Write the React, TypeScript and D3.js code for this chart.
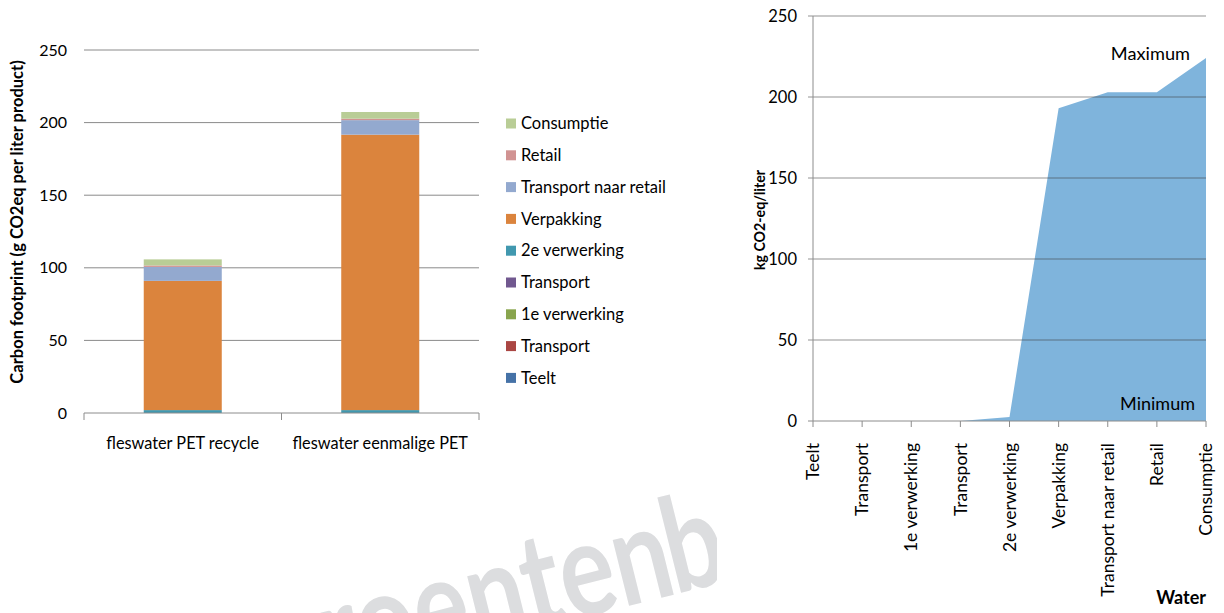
import React from "react";
import * as d3 from "d3";

// ---------- data ----------
const categories = ["fleswater PET recycle", "fleswater eenmalige PET"];
const seriesNames = [
  "Teelt",
  "Transport",
  "1e verwerking",
  "Transport",
  "2e verwerking",
  "Verpakking",
  "Transport naar retail",
  "Retail",
  "Consumptie",
];
const recycleValues = [0, 0, 0, 0, 2, 89, 9.6, 1, 4.2];
const eenmaligeValues = [0, 0, 0, 0, 2, 189.7, 10, 1, 4.6];
const seriesColors = [
  "#4572A7",
  "#AA4643",
  "#89A54E",
  "#71588F",
  "#4198AF",
  "#DB843D",
  "#93A9CF",
  "#D19392",
  "#B9CD96",
];
const leftTicks = [0, 50, 100, 150, 200, 250];

const waterStages = [
  "Teelt",
  "Transport",
  "1e verwerking",
  "Transport",
  "2e verwerking",
  "Verpakking",
  "Transport naar retail",
  "Retail",
  "Consumptie",
];
const waterValues = [0, 0, 0, 0, 2.5, 193, 203, 203, 224];
const rightTicks = [0, 50, 100, 150, 200, 250];

const FONT = "Lato, 'Open Sans', sans-serif";

export default function App() {
  // ----- left chart -----
  const keys = seriesNames.map((_, i) => "s" + i);
  const rows = categories.map((c, ci) => {
    const vals = ci === 0 ? recycleValues : eenmaligeValues;
    const r: any = { cat: c };
    keys.forEach((k, i) => (r[k] = vals[i]));
    return r;
  });
  const stacked = d3.stack().keys(keys)(rows);
  const xL = d3.scaleBand().domain(categories).range([84, 479]).padding(0);
  const yL = d3.scaleLinear().domain([0, 250]).range([413, 50]);
  const barRatio = 0.395;
  const bw = xL.bandwidth() * barRatio;

  // ----- right chart -----
  const xR = d3
    .scalePoint()
    .domain(waterStages.map((_, i) => String(i)))
    .range([813, 1206]);
  const yR = d3.scaleLinear().domain([0, 250]).range([421, 16]);
  const area = d3
    .area<number>()
    .x((_, i) => xR(String(i)) as number)
    .y0(yR(0))
    .y1((d) => yR(d));

  const gridColor = "#8a8a8a";

  return (
    <svg
      width={1224}
      height={613}
      style={{ position: "absolute", left: 0, top: 0, background: "#fff" }}
      fontFamily={FONT}
    >
      <defs>
        <clipPath id="wmclip">
          <rect x={0} y={0} width={717} height={613} />
        </clipPath>
      </defs>

      {/* watermark */}
      <g clipPath="url(#wmclip)">
        <g
          transform="translate(684,592) rotate(-14) scale(0.78,1)"
          fill="#dcdddf"
          fontSize={132}
          fontWeight="bold"
          fontFamily={FONT}
        >
          <text x={-6} textAnchor="end">groenten</text>
          <text x={-12} textAnchor="start">bank</text>
        </g>
      </g>

      {/* ---------- LEFT CHART ---------- */}
      {leftTicks.map((t) => (
        <g key={"lg" + t}>
          {t > 0 && (
            <line x1={84} x2={479} y1={yL(t)} y2={yL(t)} stroke={gridColor} strokeWidth={1} />
          )}
          <text x={67} y={yL(t)} dy="0.35em" textAnchor="end" fontSize={16}>
            {t}
          </text>
        </g>
      ))}
      {stacked.map((s, si) =>
        s.map((d: any, ci) => {
          const x0 = (xL(categories[ci]) as number) + (xL.bandwidth() - bw) / 2;
          const h = yL(d[0]) - yL(d[1]);
          if (h <= 0) return null;
          return (
            <rect
              key={si + "-" + ci}
              x={x0}
              y={yL(d[1])}
              width={bw}
              height={h}
              fill={seriesColors[si]}
            />
          );
        })
      )}
      <line x1={84} x2={479} y1={413} y2={413} stroke="#8c8c8c" strokeWidth={1} />
      {[...categories.map((c) => xL(c) as number), 479].map((x, i) => (
        <line key={"lt" + i} x1={x} x2={x} y1={413} y2={420} stroke="#8c8c8c" strokeWidth={1} />
      ))}
      {categories.map((c) => (
        <text
          key={c}
          x={(xL(c) as number) + xL.bandwidth() / 2}
          y={449}
          textAnchor="middle"
          fontSize={16.3}
        >
          {c}
        </text>
      ))}
      <text
        transform={`translate(23,${222}) rotate(-90)`}
        textAnchor="middle"
        fontSize={16.5}
        fontWeight="bold"
      >
        Carbon footprint (g CO2eq per liter product)
      </text>

      {/* legend (top = last series) */}
      {seriesNames
        .map((n, i) => ({ n, i }))
        .reverse()
        .map((e, j) => (
          <g key={"leg" + e.i} transform={`translate(506,${123.5 + j * 31.8})`}>
            <rect x={0} y={-5} width={10} height={10} fill={seriesColors[e.i]} />
            <text x={15} y={0} dy="0.35em" fontSize={16.5}>
              {e.n}
            </text>
          </g>
        ))}

      {/* ---------- RIGHT CHART ---------- */}
      <path d={area(waterValues) as string} fill="#7FB4DC" />
      {rightTicks.map((t) => (
        <g key={"rg" + t}>
          {t > 0 && (
            <line
              x1={808}
              x2={1206}
              y1={yR(t)}
              y2={yR(t)}
              stroke="#3c3c3c"
              strokeOpacity={0.55}
              strokeWidth={1}
            />
          )}
          <text x={797} y={yR(t)} dy="0.35em" textAnchor="end" fontSize={16.5}>
            {t}
          </text>
        </g>
      ))}
      <line x1={813} x2={813} y1={16} y2={421} stroke="#8c8c8c" strokeWidth={1} />
      <line x1={808} x2={1206} y1={421} y2={421} stroke="#8c8c8c" strokeWidth={1} />
      {waterStages.map((s, i) => {
        const x = xR(String(i)) as number;
        return (
          <g key={"rx" + i}>
            <line x1={x} x2={x} y1={421} y2={427} stroke="#8c8c8c" strokeWidth={1} />
            <text
              transform={`translate(${x},443) rotate(-90)`}
              dy="0.35em"
              textAnchor="end"
              fontSize={17.5}
            >
              {s}
            </text>
          </g>
        );
      })}
      <text
        transform={`translate(765,220) rotate(-90)`}
        textAnchor="middle"
        fontSize={14.2}
        fontWeight="bold"
      >
        kg CO2-eq/liter
      </text>
      <text x={1190} y={60} textAnchor="end" fontSize={18.2}>
        Maximum
      </text>
      <text x={1195} y={410} textAnchor="end" fontSize={18}>
        Minimum
      </text>
      <text x={1206} y={604} textAnchor="end" fontSize={18} fontWeight="bold">
        Water
      </text>
    </svg>
  );
}
